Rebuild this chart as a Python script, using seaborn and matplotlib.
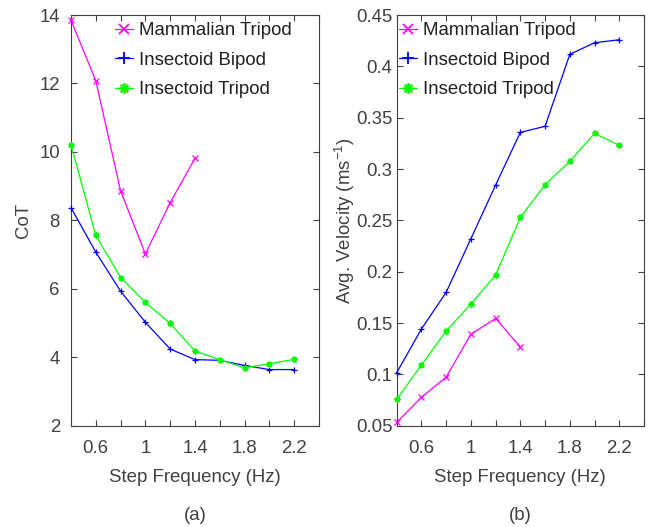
import numpy as np
import pandas as pd
import matplotlib
matplotlib.use("Agg")
import matplotlib.pyplot as plt
import seaborn as sns
from matplotlib.lines import Line2D

# ---- data ----
freq = [0.4, 0.6, 0.8, 1.0, 1.2, 1.4, 1.6, 1.8, 2.0, 2.2]
freq_mammal = [0.4, 0.6, 0.8, 1.0, 1.2, 1.4]
series_names = ["Mammalian Tripod", "Insectoid Bipod", "Insectoid Tripod"]

cot_mammal = [13.85, 12.08, 8.86, 7.02, 8.52, 9.81]
cot_bipod = [8.37, 7.07, 5.93, 5.02, 4.24, 3.93, 3.91, 3.76, 3.64, 3.64]
cot_tripod = [10.21, 7.56, 6.33, 5.60, 4.99, 4.18, 3.93, 3.69, 3.81, 3.94]

vel_mammal = [0.0532, 0.0776, 0.0974, 0.1390, 0.1545, 0.1266]
vel_bipod = [0.1016, 0.1442, 0.1799, 0.2321, 0.2844, 0.3357, 0.3416, 0.4117, 0.4230, 0.4259]
vel_tripod = [0.0756, 0.1091, 0.1422, 0.1685, 0.1968, 0.2529, 0.2847, 0.3074, 0.3347, 0.3230]

x_ticks = [0.4, 0.6, 0.8, 1.0, 1.2, 1.4, 1.6, 1.8, 2.0, 2.2, 2.4]
x_ticklabels = ["", "0.6", "", "1", "", "1.4", "", "1.8", "", "2.2", ""]
cot_ticks = [2, 4, 6, 8, 10, 12, 14]
vel_ticks = [0.05, 0.1, 0.15, 0.2, 0.25, 0.3, 0.35, 0.4, 0.45]
vel_ticklabels = ["0.05", "0.1", "0.15", "0.2", "0.25", "0.3", "0.35", "0.4", "0.45"]

# ---- styles ----
colors = {"Mammalian Tripod": "#FF00FF", "Insectoid Bipod": "#0000FF", "Insectoid Tripod": "#00FF00"}
markers = {"Mammalian Tripod": "x", "Insectoid Bipod": "+", "Insectoid Tripod": (8, 2, 0)}
msize = {"Mammalian Tripod": 4, "Insectoid Bipod": 5, "Insectoid Tripod": 4.5}

sns.set_style("white")
plt.rcParams["font.family"] = ["Liberation Sans", "DejaVu Sans"]
plt.rcParams["mathtext.default"] = "regular"
txt = "#404040"
FS = 13.4

def make_df(mam, bip, tri):
    rows = []
    for x, y in zip(freq_mammal, mam):
        rows.append((series_names[0], x, y))
    for x, y in zip(freq, bip):
        rows.append((series_names[1], x, y))
    for x, y in zip(freq, tri):
        rows.append((series_names[2], x, y))
    return pd.DataFrame(rows, columns=["series", "freq", "val"])

df_cot = make_df(cot_mammal, cot_bipod, cot_tripod)
df_vel = make_df(vel_mammal, vel_bipod, vel_tripod)

fig = plt.figure(figsize=(6.56, 5.27), dpi=100)
ax1 = fig.add_axes([71/656, 1-425.7/527, 248/656, 410.7/527])
ax2 = fig.add_axes([396.7/656, 1-425.7/527, 247.3/656, 410.7/527])

def draw(ax, df, yticks, ylim, ylabel, yticklabels, legend_x, ypad, ylabelpad):
    for name in series_names:
        sub = df[df["series"] == name]
        sns.lineplot(data=sub, x="freq", y="val", ax=ax, color=colors[name],
                     marker=markers[name], markersize=msize[name], linewidth=0.9,
                     markeredgewidth=0.9, markeredgecolor=colors[name], legend=False,
                     clip_on=False, zorder=3)
    ax.set_xlim(0.4, 2.4)
    ax.set_ylim(*ylim)
    ax.set_xticks(x_ticks)
    ax.set_xticklabels(x_ticklabels)
    ax.set_yticks(yticks)
    ax.set_yticklabels(yticklabels)
    ax.tick_params(direction="in", length=4, width=0.8, top=True, right=True,
                   bottom=True, left=True, labelsize=FS, colors=txt)
    ax.tick_params(axis="x", pad=10)
    ax.tick_params(axis="y", pad=ypad)
    for sp in ax.spines.values():
        sp.set_visible(True)
        sp.set_color(txt)
        sp.set_linewidth(0.8)
    ax.set_xlabel("Step Frequency (Hz)", fontsize=FS, color=txt, labelpad=9)
    ax.set_ylabel(ylabel, fontsize=FS, color=txt, labelpad=ylabelpad)
    handles = [Line2D([0], [0], color=colors[n], marker=markers[n], markersize=msize[n] + 3,
                      linewidth=0.9, markeredgewidth=1.3) for n in series_names]
    leg = ax.legend(handles, series_names, loc="upper left", bbox_to_anchor=(legend_x, 0.982),
                    frameon=False, fontsize=FS, handlelength=0.97, handletextpad=0.32,
                    labelspacing=0.67, borderpad=0, borderaxespad=0)
    for t in leg.get_texts():
        t.set_color("#202020")

draw(ax1, df_cot, cot_ticks, (2, 14), "CoT", [str(t) for t in cot_ticks], 0.177, 8, 5)
draw(ax2, df_vel, vel_ticks, (0.05, 0.45), "Avg. Velocity (ms$^{-1}$)", vel_ticklabels, 0.009, 3, -1)

fig.text((71 + 319) / 2 / 656, 1 - 515/527, "(a)", ha="center", va="center", fontsize=FS, color=txt)
fig.text((396.7 + 644) / 2 / 656, 1 - 515/527, "(b)", ha="center", va="center", fontsize=FS, color=txt)

fig.savefig("out.png", dpi=100)
